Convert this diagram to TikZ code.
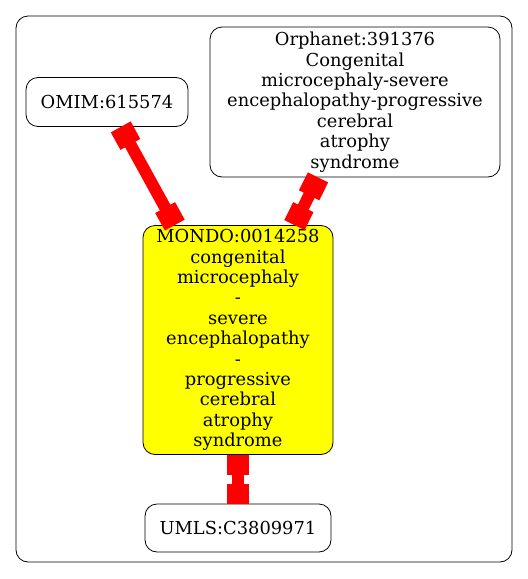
\documentclass[tikz,border=0pt]{standalone}
\usepackage{fontspec}
\setmainfont{DejaVu Serif}
\usetikzlibrary{arrows.meta}
\definecolor{termyellow}{RGB}{255,255,0}
\definecolor{linkred}{RGB}{255,0,0}

\begin{document}
\begin{tikzpicture}[
    x=0.75pt, y=-0.75pt,
    term/.style={draw, rectangle, rounded corners=9pt, align=center, inner sep=0pt, line width=0.6pt,
                 font=\fontsize{13.4}{15.3}\selectfont},
    mondo/.style={term, fill=termyellow},
    link/.style={draw=linkred, line width=9pt,
                 {Square[length=15pt, width=17pt]}-{Square[length=15pt, width=17pt]}}
]
\useasboundingbox (0,0) rectangle (528,579);

% Cluster
\draw[rounded corners=9pt, line width=0.6pt] (16,16) rectangle (512,562);

% Terms
\node[term, minimum width=162*0.75pt, minimum height=49*0.75pt] (omim) at (107,102) {OMIM:615574};
\node[term, minimum width=290*0.75pt, minimum height=150*0.75pt] (orpha) at (355,102)
    {Orphanet:391376\\Congenital\\microcephaly-severe\\encephalopathy-progressive\\cerebral\\atrophy\\syndrome};
\node[mondo, minimum width=190*0.75pt, minimum height=229*0.75pt] (mondo) at (238,340)
    {MONDO:0014258\\congenital\\microcephaly\\-\\severe\\encephalopathy\\-\\progressive\\cerebral\\atrophy\\syndrome};
\node[term, minimum width=186*0.75pt, minimum height=48*0.75pt] (umls) at (238,528) {UMLS:C3809971};

% Links
\draw[link] (omim) -- (mondo);
\draw[link] (orpha) -- (mondo);
\draw[link] (mondo) -- (umls);

\end{tikzpicture}
\end{document}
